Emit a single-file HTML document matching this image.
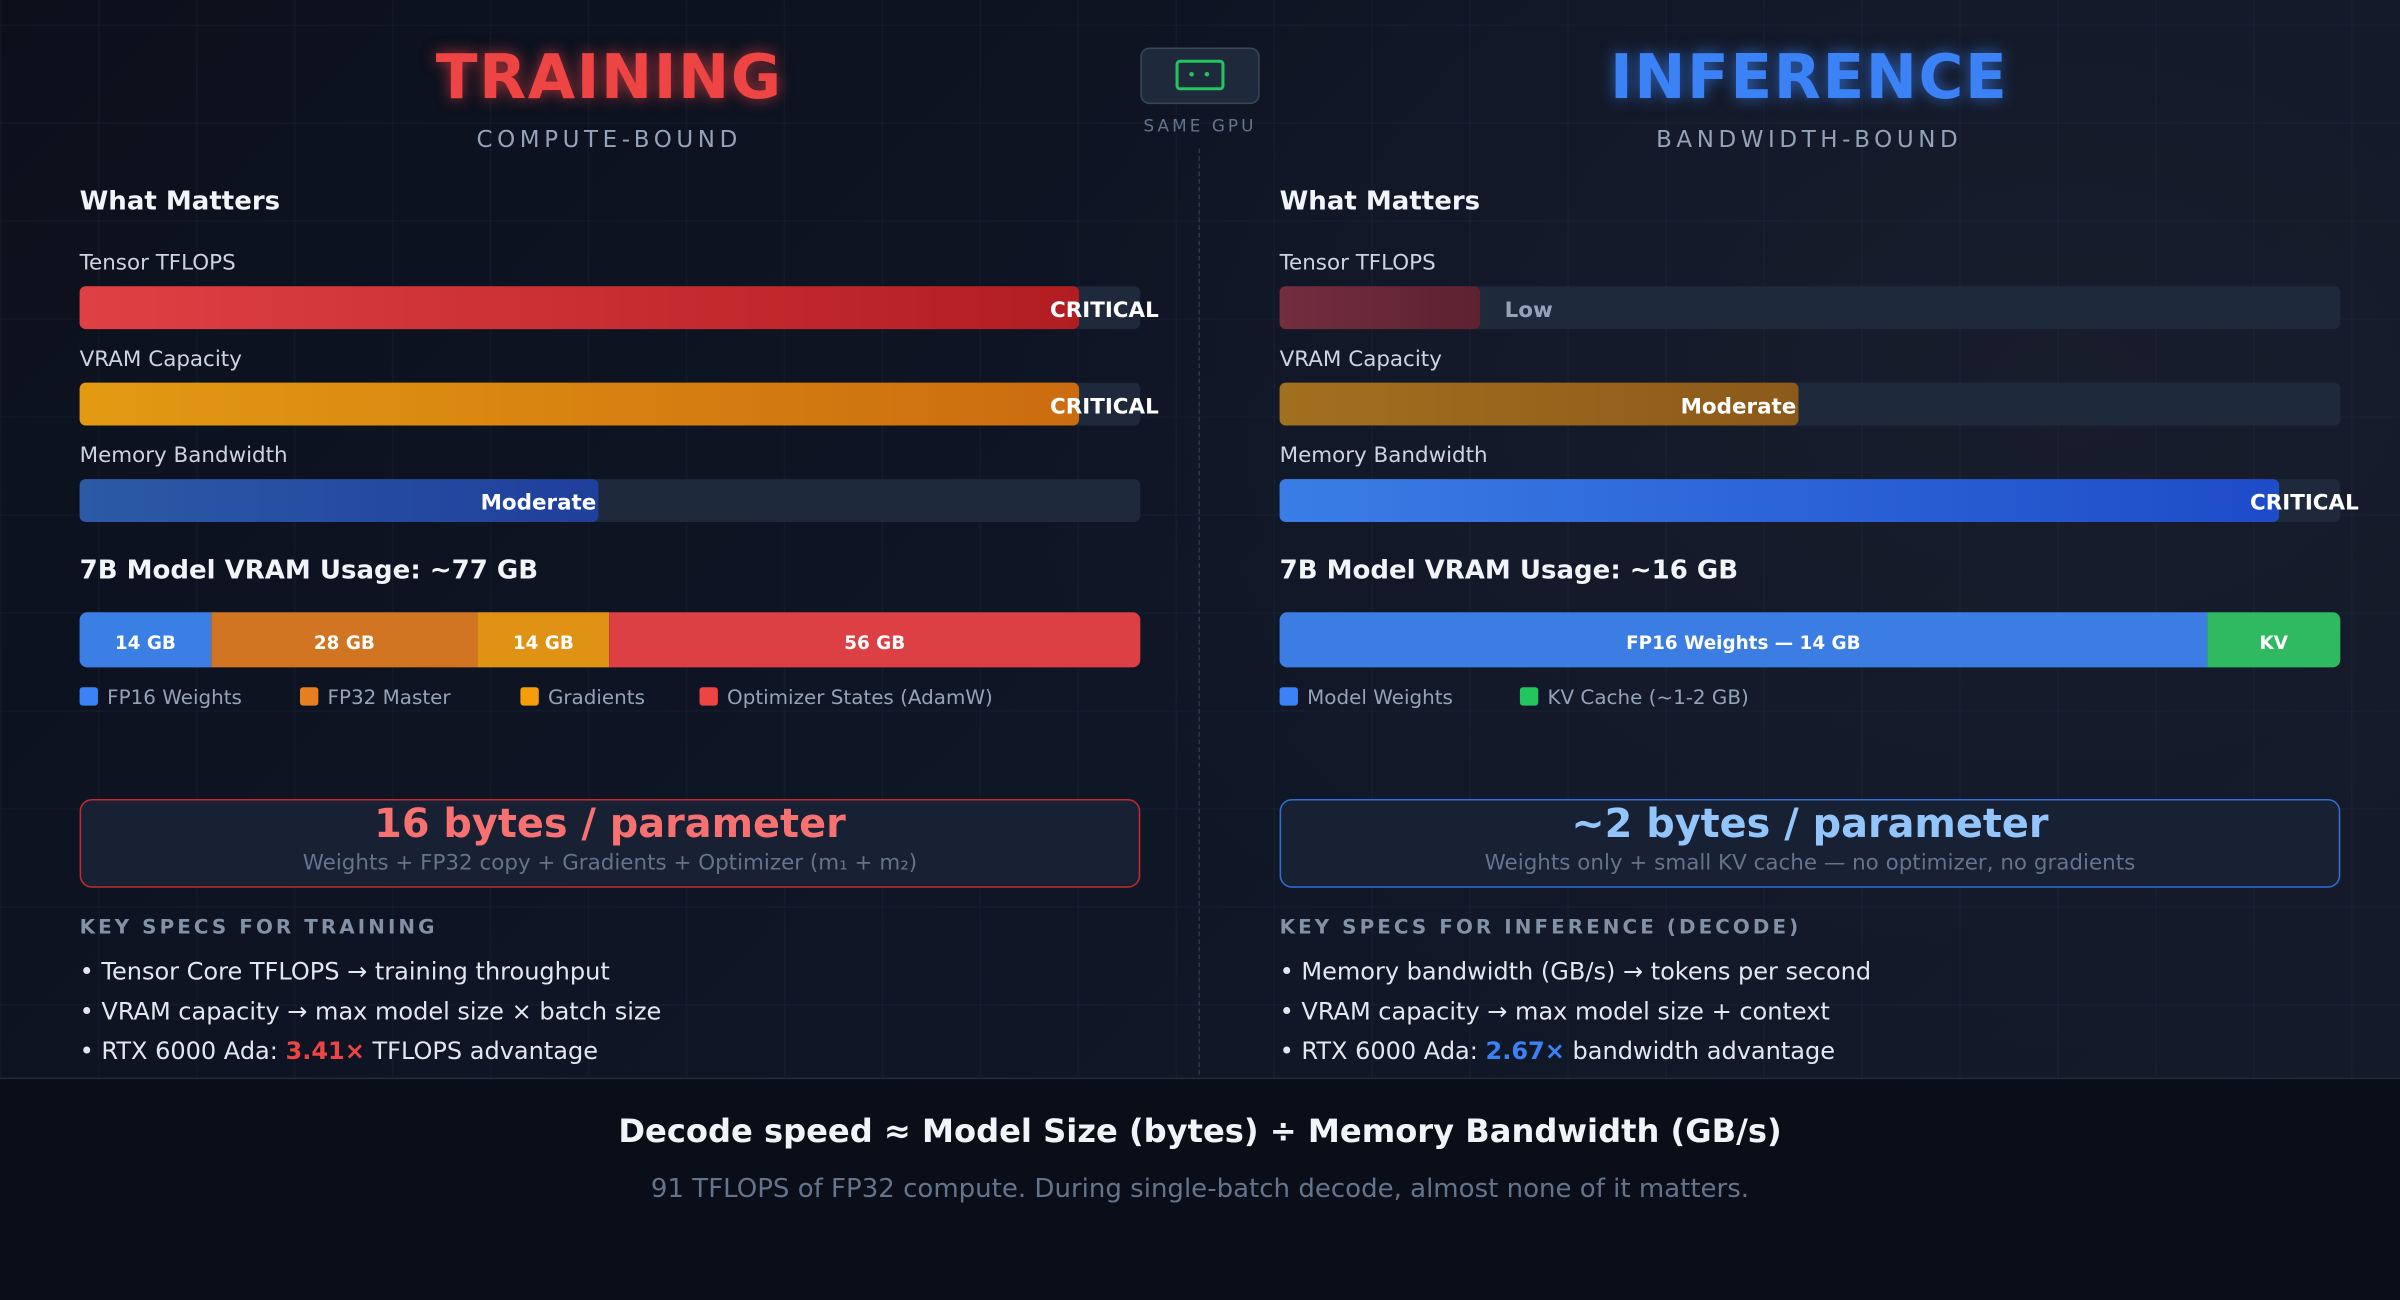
<!DOCTYPE html>
<html><head><meta charset="utf-8"><style>
html,body{margin:0;padding:0;background:#0c111c;}
body{width:2400px;height:1300px;overflow:hidden;}
#s{position:absolute;left:0;top:0;width:1568px;height:849px;transform:scale(1.530612);transform-origin:0 0;
font-family:"DejaVu Sans","Liberation Sans",sans-serif;color:#e2e8f0;overflow:hidden;
background:radial-gradient(ellipse 700px 500px at 1350px 250px,#181d2c 0%,rgba(24,29,44,0) 100%),linear-gradient(135deg,#0b101b 0%,#0f1626 50%,#131a2a 100%);}
.grid{position:absolute;left:0;top:0;width:1568px;height:705px;
background-image:linear-gradient(rgba(40,55,80,.18) 1px,transparent 1px),linear-gradient(90deg,rgba(40,55,80,.18) 1px,transparent 1px);background-size:64px 64px;background-position:0 16px;}
.a{position:absolute;white-space:nowrap;}
.c{transform:translateX(-50%);}
.h1{font-size:40px;font-weight:bold;letter-spacing:1px;top:28px;}
.sub{font-size:15px;letter-spacing:3px;color:#94a3b8;top:82px;}
.wm{font-size:17px;font-weight:bold;top:122px;color:#f1f5f9;}
.lbl{font-size:14px;color:#cbd5e1;}
.track{position:absolute;height:28px;width:693px;background:#1e293b;border-radius:4px;}
.fill{position:absolute;left:0;top:0;height:28px;border-radius:4px;}
.bt{position:absolute;font-size:14px;font-weight:bold;color:#fff;top:8px;white-space:nowrap;}
.seg{position:absolute;top:400px;height:36px;font-size:12px;font-weight:bold;color:#fff;text-align:center;line-height:41px;}
.leg{font-size:13px;color:#94a3b8;top:449px;}
.sq{display:inline-block;width:12px;height:12px;border-radius:2px;vertical-align:-1px;margin-right:6px;}
.box{position:absolute;top:522px;width:691px;height:56px;border-radius:8px;background:#182033;text-align:center;}
.box b{display:block;font-size:26px;margin-top:1px;}
.box span{display:block;font-size:14px;color:#64748b;margin-top:2px;}
.ks{font-size:13px;font-weight:bold;letter-spacing:2px;color:#8391a7;top:599px;}
.bl{font-size:15.7px;color:#e2e8f0;}
</style></head><body><div id="s">
<div class="grid"></div>
<div class="a c h1" style="left:398px;color:#ef4444;text-shadow:0 0 10px rgba(239,68,68,.7)">TRAINING</div>
<div class="a c sub" style="left:398px">COMPUTE-BOUND</div>
<div class="a c h1" style="left:1182px;color:#3b82f6;text-shadow:0 0 10px rgba(59,130,246,.7)">INFERENCE</div>
<div class="a c sub" style="left:1182px">BANDWIDTH-BOUND</div>
<div class="a" style="left:745px;top:31px;width:76px;height:35px;background:#1e293b;border:1px solid #3a4657;border-radius:6px"></div>
<div class="a" style="left:768px;top:39px;width:32px;height:20px;border:2px solid #22c55e;border-radius:3px;box-sizing:border-box"></div>
<div class="a" style="left:777px;top:47px;width:3px;height:3px;background:#22c55e;border-radius:2px"></div>
<div class="a" style="left:787px;top:47px;width:3px;height:3px;background:#22c55e;border-radius:2px"></div>
<div class="a c" style="left:784px;top:76px;font-size:11px;letter-spacing:2px;color:#64748b">SAME GPU</div>
<div class="a" style="left:783px;top:97px;height:605px;border-left:1px dashed #2c3648"></div>

<!-- LEFT -->
<div class="a wm" style="left:52px">What Matters</div>
<div class="a lbl" style="left:52px;top:164px">Tensor TFLOPS</div>
<div class="track" style="left:52px;top:187px"><div class="fill" style="width:653px;background:linear-gradient(90deg,#df4044,#b21d22)"></div><div class="bt" style="left:634px">CRITICAL</div></div>
<div class="a lbl" style="left:52px;top:227px">VRAM Capacity</div>
<div class="track" style="left:52px;top:250px"><div class="fill" style="width:653px;background:linear-gradient(90deg,#e39a12,#cb6c10)"></div><div class="bt" style="left:634px">CRITICAL</div></div>
<div class="a lbl" style="left:52px;top:290px">Memory Bandwidth</div>
<div class="track" style="left:52px;top:313px"><div class="fill" style="width:339px;background:linear-gradient(90deg,#2c5aa6,#1f3f9c)"></div><div class="bt" style="left:262px">Moderate</div></div>
<div class="a wm" style="left:52px;top:363px">7B Model VRAM Usage: ~77 GB</div>
<div class="seg" style="left:52px;width:86px;background:#3b7ee4;border-radius:5px 0 0 5px">14 GB</div>
<div class="seg" style="left:138px;width:174px;background:#d27522">28 GB</div>
<div class="seg" style="left:312px;width:86px;background:#e09214">14 GB</div>
<div class="seg" style="left:398px;width:347px;background:#dc4044;border-radius:0 5px 5px 0">56 GB</div>
<div class="a leg" style="left:52px"><i class="sq" style="background:#3b82f6"></i>FP16 Weights</div>
<div class="a leg" style="left:196px"><i class="sq" style="background:#e57f22"></i>FP32 Master</div>
<div class="a leg" style="left:340px"><i class="sq" style="background:#f59e0b"></i>Gradients</div>
<div class="a leg" style="left:457px"><i class="sq" style="background:#ef4444"></i>Optimizer States (AdamW)</div>
<div class="box" style="left:52px;border:1px solid #c62a2e"><b style="color:#f87171">16 bytes / parameter</b><span>Weights + FP32 copy + Gradients + Optimizer (m₁ + m₂)</span></div>
<div class="a ks" style="left:52px">KEY SPECS FOR TRAINING</div>
<div class="a bl" style="left:52px;top:625px">• Tensor Core TFLOPS → training throughput</div>
<div class="a bl" style="left:52px;top:651px">• VRAM capacity → max model size × batch size</div>
<div class="a bl" style="left:52px;top:677px">• RTX 6000 Ada: <b style="color:#ef4444">3.41×</b> TFLOPS advantage</div>

<!-- RIGHT -->
<div class="a wm" style="left:836px">What Matters</div>
<div class="a lbl" style="left:836px;top:164px">Tensor TFLOPS</div>
<div class="track" style="left:836px;top:187px"><div class="fill" style="width:131px;background:linear-gradient(90deg,#722f3e,#5d2130)"></div><div class="bt" style="left:147px;color:#94a3b8">Low</div></div>
<div class="a lbl" style="left:836px;top:227px">VRAM Capacity</div>
<div class="track" style="left:836px;top:250px"><div class="fill" style="width:339px;background:linear-gradient(90deg,#a1701e,#8c5a1a)"></div><div class="bt" style="left:262px">Moderate</div></div>
<div class="a lbl" style="left:836px;top:290px">Memory Bandwidth</div>
<div class="track" style="left:836px;top:313px"><div class="fill" style="width:653px;background:linear-gradient(90deg,#3a7de6,#1e4bc8)"></div><div class="bt" style="left:634px">CRITICAL</div></div>
<div class="a wm" style="left:836px;top:363px">7B Model VRAM Usage: ~16 GB</div>
<div class="seg" style="left:836px;width:606px;background:#3b7de3;border-radius:5px 0 0 5px">FP16 Weights — 14 GB</div>
<div class="seg" style="left:1442px;width:87px;background:#2fba62;border-radius:0 5px 5px 0">KV</div>
<div class="a leg" style="left:836px"><i class="sq" style="background:#3b82f6"></i>Model Weights</div>
<div class="a leg" style="left:993px"><i class="sq" style="background:#22c55e"></i>KV Cache (~1-2 GB)</div>
<div class="box" style="left:836px;border:1px solid #2f6fd6"><b style="color:#93c5fd">~2 bytes / parameter</b><span>Weights only + small KV cache — no optimizer, no gradients</span></div>
<div class="a ks" style="left:836px">KEY SPECS FOR INFERENCE (DECODE)</div>
<div class="a bl" style="left:836px;top:625px">• Memory bandwidth (GB/s) → tokens per second</div>
<div class="a bl" style="left:836px;top:651px">• VRAM capacity → max model size + context</div>
<div class="a bl" style="left:836px;top:677px">• RTX 6000 Ada: <b style="color:#3b82f6">2.67×</b> bandwidth advantage</div>

<!-- FOOTER -->
<div class="a" style="left:0;top:704px;width:1568px;height:145px;background:#0a0e18;border-top:1px solid #222c3d"></div>
<div class="a c" style="left:784px;top:727px;font-size:21px;font-weight:bold;color:#f1f5f9">Decode speed ≈ Model Size (bytes) ÷ Memory Bandwidth (GB/s)</div>
<div class="a c" style="left:784px;top:767px;font-size:17px;color:#64748b">91 TFLOPS of FP32 compute. During single-batch decode, almost none of it matters.</div>
</div></body></html>
